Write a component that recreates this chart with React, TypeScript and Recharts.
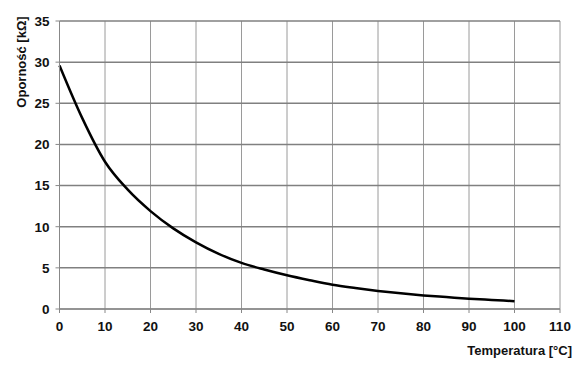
import React from 'react';
import { LineChart, Line, XAxis, YAxis, CartesianGrid } from 'recharts';

const temperatures = [0, 5, 10, 15, 20, 25, 30, 35, 40, 45, 50, 55, 60, 65, 70, 75, 80, 85, 90, 95, 100];
const resistance = [29.6, 23.2, 17.9, 14.5, 11.9, 9.8, 8.1, 6.7, 5.6, 4.8, 4.1, 3.5, 2.95, 2.55, 2.2, 1.9, 1.65, 1.45, 1.25, 1.1, 0.95];
const xTicks = [0, 10, 20, 30, 40, 50, 60, 70, 80, 90, 100, 110];
const yTicks = [0, 5, 10, 15, 20, 25, 30, 35];

const data = temperatures.map((t, i) => ({ t, r: resistance[i] }));

const font = '"Liberation Sans", Arial, sans-serif';
const tickStyle = { fill: '#111', fontSize: 13.5, fontWeight: 700, fontFamily: font };

const XLabel = (props: any) => {
  const { viewBox } = props;
  return (
    <text
      x={viewBox.x + viewBox.width + 12}
      y={viewBox.y + 46}
      textAnchor="end"
      fill="#111"
      fontSize={13}
      fontWeight={700}
      fontFamily={font}
    >
      Temperatura [°C]
    </text>
  );
};

const YLabel = (props: any) => {
  const { viewBox } = props;
  const x = viewBox.x + 21;
  const y = viewBox.y + 41;
  return (
    <text
      x={x}
      y={y}
      transform={`rotate(-90 ${x} ${y})`}
      textAnchor="middle"
      dominantBaseline="central"
      fill="#111"
      fontSize={13}
      fontWeight={700}
      fontFamily={font}
    >
      Oporność [kΩ]
    </text>
  );
};

export default function App() {
  return (
    <div style={{ position: 'fixed', left: 0, top: 0, width: 582, height: 366, background: '#fff' }}>
      <LineChart width={582} height={366} data={data} margin={{ top: 21, right: 22, bottom: 27, left: 0 }}>
        <CartesianGrid horizontal={false} stroke="#9a9a9a" strokeWidth={1} />
        <CartesianGrid vertical={false} stroke="#808080" strokeWidth={1.5} />
        <XAxis
          type="number"
          dataKey="t"
          domain={[0, 110]}
          ticks={xTicks}
          interval={0}
          height={30}
          tickSize={4}
          tickMargin={8}
          stroke="#888"
          tick={tickStyle}
          label={<XLabel />}
        />
        <YAxis
          type="number"
          domain={[0, 35]}
          ticks={yTicks}
          interval={0}
          width={59.5}
          tickSize={4}
          tickMargin={6}
          stroke="#888"
          tick={tickStyle}
          label={<YLabel />}
        />
        <Line
          type="monotone"
          dataKey="r"
          stroke="#000"
          strokeWidth={2.5}
          dot={false}
          isAnimationActive={false}
        />
      </LineChart>
    </div>
  );
}
